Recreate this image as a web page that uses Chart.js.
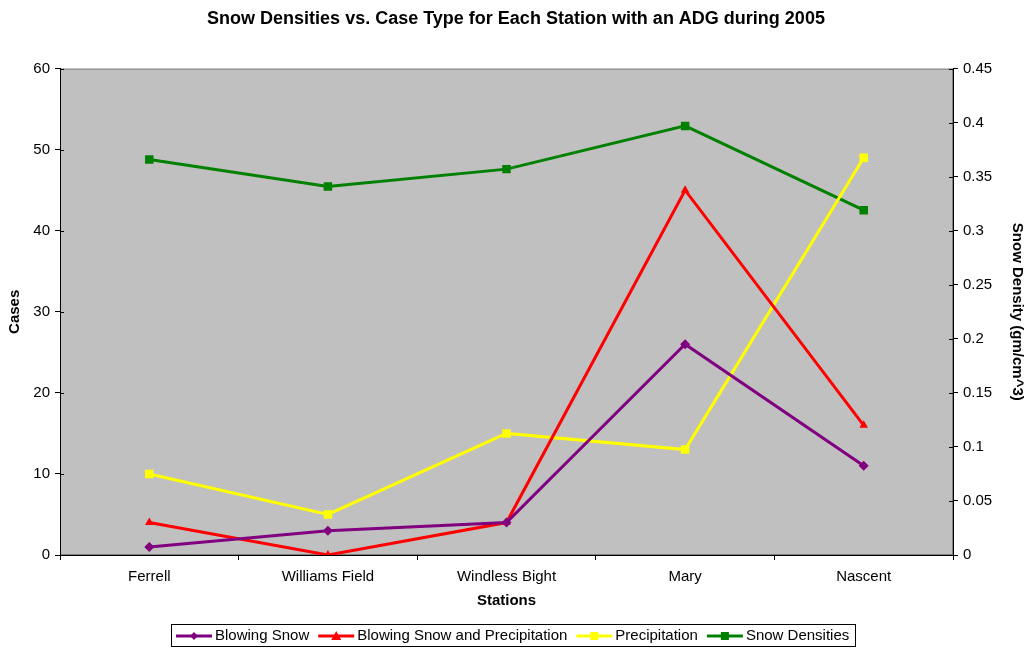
<!DOCTYPE html>
<html>
<head>
<meta charset="utf-8">
<script src="https://cdn.jsdelivr.net/npm/chart.js@4.4.0/dist/chart.umd.min.js"></script>
<style>
  html, body { margin: 0; padding: 0; background: #fff; }
  #wrap { width: 1026px; height: 648px; }
</style>
</head>
<body>
<div id="wrap"><canvas id="chart"></canvas></div>
<script>
const stations = ['Ferrell', 'Williams Field', 'Windless Bight', 'Mary', 'Nascent'];
const blowingSnow = [1, 3, 4, 26, 11];
const blowingSnowPrecip = [4, 0, 4, 45, 16];
const precipitation = [10, 5, 15, 13, 49];
const snowDensities = [0.366, 0.341, 0.357, 0.397, 0.319];

const FONT = '"Liberation Sans", Arial, sans-serif';

const series = [
    { label: 'Blowing Snow', data: blowingSnow, color: '#800080', marker: 'rectRot', axis: 'y' },
    { label: 'Blowing Snow and Precipitation', data: blowingSnowPrecip, color: '#FF0000', marker: 'triangle', axis: 'y' },
    { label: 'Precipitation', data: precipitation, color: '#FFFF00', marker: 'rect', axis: 'y' },
    { label: 'Snow Densities', data: snowDensities, color: '#008000', marker: 'rect', axis: 'y1' }
];

function drawMarker(g, marker, x, y) {
    g.beginPath();
    if (marker === 'rectRot') {
        g.moveTo(x, y - 4); g.lineTo(x + 4, y); g.lineTo(x, y + 4); g.lineTo(x - 4, y);
    } else if (marker === 'triangle') {
        g.moveTo(x, y - 5); g.lineTo(x + 5, y + 4); g.lineTo(x - 5, y + 4);
    } else {
        g.rect(x - 4, y - 4, 8, 8);
    }
    g.closePath(); g.fill();
}

const plotDecor = {
    id: 'plotDecor',
    beforeDraw(chart) {
        const { ctx, chartArea: a } = chart;
        ctx.save();
        ctx.fillStyle = '#C0C0C0';
        ctx.fillRect(a.left, a.top, a.right - a.left, a.bottom - a.top);
        ctx.strokeStyle = '#808080';
        ctx.lineWidth = 1;
        ctx.strokeRect(a.left + 0.5, a.top + 0.5, a.right - a.left - 1, a.bottom - a.top - 1);
        ctx.restore();
    },
    afterDatasetsDraw(chart) {
        // inner halves of the y tick marks, Excel style
        const { ctx, chartArea: a } = chart;
        ctx.save();
        ctx.strokeStyle = '#000';
        ctx.lineWidth = 1;
        ctx.beginPath();
        ['y', 'y1'].forEach(id => {
            const s = chart.scales[id];
            s.ticks.forEach(t => {
                const py = Math.round(s.getPixelForValue(t.value)) + 0.5;
                if (id === 'y') { ctx.moveTo(a.left, py); ctx.lineTo(a.left + 4, py); }
                else { ctx.moveTo(a.right, py); ctx.lineTo(a.right - 4, py); }
            });
        });
        ctx.stroke();
        ctx.restore();
    },
    afterDraw(chart) {
        // legend box with line+marker swatches
        const ctx = chart.ctx;
        ctx.save();
        ctx.font = '15px ' + FONT;
        const sw = 36, gapText = 3, gapItem = 9, padL = 5, padR = 6;
        let total = padL + padR;
        series.forEach((s, i) => {
            total += sw + gapText + ctx.measureText(s.label).width + (i < series.length - 1 ? gapItem : 0);
        });
        const top = chart.height - 24, h = 22;
        let x = Math.round((chart.width - total) / 2);
        ctx.strokeStyle = '#000';
        ctx.lineWidth = 1;
        ctx.strokeRect(x + 0.5, top + 0.5, Math.round(total), h);
        const cy = top + h / 2 + 1;
        x += padL;
        ctx.textBaseline = 'middle';
        series.forEach(s => {
            ctx.strokeStyle = s.color; ctx.fillStyle = s.color; ctx.lineWidth = 3;
            ctx.beginPath(); ctx.moveTo(x, cy); ctx.lineTo(x + sw, cy); ctx.stroke();
            drawMarker(ctx, s.marker, x + sw / 2, cy);
            x += sw + gapText;
            ctx.fillStyle = '#000';
            ctx.fillText(s.label, x, cy);
            x += ctx.measureText(s.label).width + gapItem;
        });
        ctx.restore();
    }
};

new Chart(document.getElementById('chart'), {
    type: 'line',
    data: {
        labels: stations,
        datasets: series.map(s => ({
            label: s.label,
            data: s.data,
            yAxisID: s.axis,
            borderColor: s.color,
            backgroundColor: s.color,
            borderWidth: 3,
            pointStyle: s.marker,
            pointRadius: s.marker === 'rect' ? 6 : 5,
            pointBorderWidth: 0,
            tension: 0
        }))
    },
    options: {
        responsive: true,
        maintainAspectRatio: false,
        animation: false,
        layout: { padding: { left: 6, right: 0, top: 0, bottom: 38 } },
        plugins: {
            title: {
                display: true,
                text: 'Snow Densities vs. Case Type for Each Station with an ADG during 2005',
                color: '#000',
                font: { family: FONT, size: 18, weight: 'bold' },
                padding: { top: 8, bottom: 39 }
            },
            legend: { display: false },
            tooltip: { enabled: false }
        },
        scales: {
            x: {
                offset: true,
                grid: { display: true, offset: true, drawOnChartArea: false, color: '#000', tickLength: 5 },
                border: { color: '#000' },
                ticks: { color: '#000', font: { family: FONT, size: 15 }, padding: 8 },
                title: { display: true, text: 'Stations', color: '#000', font: { family: FONT, size: 15, weight: 'bold' }, padding: 0 },
                afterFit(scale) { scale.height = 55; }
            },
            y: {
                position: 'left',
                min: 0, max: 60,
                ticks: { stepSize: 10, color: '#000', font: { family: FONT, size: 15 }, padding: 5 },
                grid: { drawOnChartArea: false, color: '#000', tickLength: 5 },
                border: { color: '#000' },
                title: { display: true, text: 'Cases', color: '#000', font: { family: FONT, size: 15, weight: 'bold' }, padding: 0 },
                afterFit(scale) { scale.width = 54; }
            },
            y1: {
                position: 'right',
                min: 0, max: 0.45,
                ticks: { stepSize: 0.05, color: '#000', font: { family: FONT, size: 15 }, padding: 5,
                    callback: v => Number(v.toFixed(2)).toString() },
                grid: { drawOnChartArea: false, color: '#000', tickLength: 5 },
                border: { color: '#000' },
                title: { display: true, text: 'Snow Density (gm/cm^3)', color: '#000', font: { family: FONT, size: 15, weight: 'bold' }, padding: 0 },
                afterFit(scale) { scale.width = 73; }
            }
        }
    },
    plugins: [plotDecor]
});
</script>
</body>
</html>
